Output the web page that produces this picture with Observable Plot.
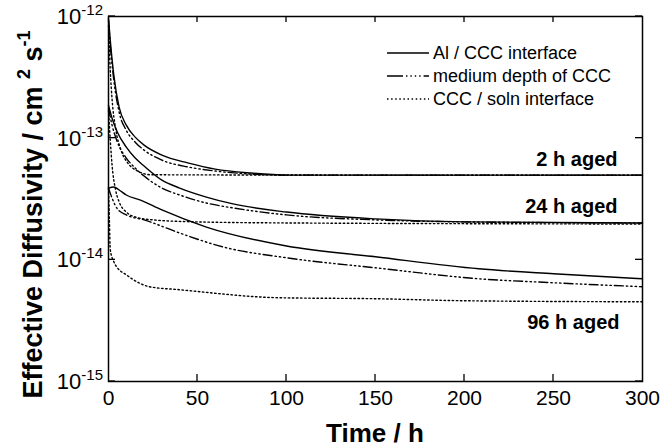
<!DOCTYPE html>
<html><head><meta charset="utf-8">
<script src="https://cdn.jsdelivr.net/npm/d3@7"></script>
<script src="https://cdn.jsdelivr.net/npm/@observablehq/plot@0.6"></script>
<style>
body{margin:0;background:#fff}
svg{font-family:Arial,"Liberation Sans",sans-serif}
</style>
</head><body><div id="chart"></div>
<script>
// ---- data (Time / h, Effective diffusivity / cm^2 s^-1) ----
const ages = ["2 h aged", "24 h aged", "96 h aged"];
const depths = ["Al / CCC interface", "medium depth of CCC", "CCC / soln interface"];

const t2hAl   = [0, 1, 3, 6, 10, 15, 20, 30, 45, 60, 80, 100, 300];
const d2hAl   = [9.63e-13, 6.36e-13, 3.28e-13, 1.79e-13, 1.28e-13, 1.02e-13, 8.76e-14, 7.26e-14, 6.24e-14, 5.57e-14, 5.17e-14, 4.97e-14, 4.97e-14];
const t2hMid  = [0, 1, 3, 6, 10, 15, 20, 30, 45, 60, 80, 100, 300];
const d2hMid  = [9.27e-13, 5.79e-13, 2.99e-13, 1.63e-13, 1.16e-13, 9.27e-14, 7.97e-14, 6.60e-14, 5.79e-14, 5.37e-14, 5.07e-14, 4.97e-14, 4.97e-14];
const t2hSoln = [0, 1, 2, 4, 7, 11, 16, 24, 300];
const d2hSoln = [8.44e-13, 3.60e-13, 2.10e-13, 1.20e-13, 8.00e-14, 6.20e-14, 5.40e-14, 5.00e-14, 4.95e-14];

const t24hAl   = [0, 2, 5, 10, 15, 20, 30, 40, 55, 70, 100, 150, 200, 300];
const d24hAl   = [1.86e-13, 1.46e-13, 1.12e-13, 8.44e-14, 6.86e-14, 5.90e-14, 4.52e-14, 3.89e-14, 3.28e-14, 2.88e-14, 2.47e-14, 2.17e-14, 2.05e-14, 2.01e-14];
const t24hMid  = [0, 2, 5, 10, 15, 20, 30, 40, 55, 70, 100, 150, 200, 300];
const d24hMid  = [1.76e-13, 1.28e-13, 9.27e-14, 6.86e-14, 5.68e-14, 4.88e-14, 3.89e-14, 3.41e-14, 2.93e-14, 2.67e-14, 2.34e-14, 2.13e-14, 2.05e-14, 2.01e-14];
const t24hSoln = [0, 1, 2, 4, 6, 10, 15, 25, 50, 100, 300];
const d24hSoln = [1.70e-13, 9.63e-14, 6.01e-14, 3.75e-14, 2.99e-14, 2.47e-14, 2.25e-14, 2.13e-14, 2.05e-14, 2.01e-14, 1.97e-14];

const t96hAl   = [0, 3, 6, 10, 18, 30, 55, 100, 150, 208, 250, 300];
const d96hAl   = [3.89e-14, 3.97e-14, 3.75e-14, 3.41e-14, 3.10e-14, 2.57e-14, 1.86e-14, 1.30e-14, 1.06e-14, 8.44e-15, 7.68e-15, 6.99e-15];
const t96hMid  = [0, 2, 5, 10, 20, 40, 64, 100, 150, 208, 250, 300];
const d96hMid  = [3.89e-14, 3.22e-14, 2.62e-14, 2.34e-14, 2.13e-14, 1.66e-14, 1.28e-14, 1.04e-14, 8.60e-15, 6.99e-15, 6.48e-15, 6.01e-15];
const t96hSoln = [0, 0.5, 1, 3, 5, 10, 14, 23, 40, 96, 150, 200, 300];
const d96hSoln = [3.89e-14, 2.13e-14, 1.21e-14, 9.63e-15, 8.60e-15, 7.53e-15, 6.86e-15, 6.01e-15, 5.68e-15, 4.88e-15, 4.79e-15, 4.61e-15, 4.52e-15];

const xTicks = [0, 50, 100, 150, 200, 250, 300];
const yTicks = [1e-15, 1e-14, 1e-13, 1e-12];
const yTickExp = ["-15", "-14", "-13", "-12"];

(function () {
// ---- build table ----
const series = [
  [ages[0], depths[0], t2hAl, d2hAl], [ages[0], depths[1], t2hMid, d2hMid], [ages[0], depths[2], t2hSoln, d2hSoln],
  [ages[1], depths[0], t24hAl, d24hAl], [ages[1], depths[1], t24hMid, d24hMid], [ages[1], depths[2], t24hSoln, d24hSoln],
  [ages[2], depths[0], t96hAl, d96hAl], [ages[2], depths[1], t96hMid, d96hMid], [ages[2], depths[2], t96hSoln, d96hSoln]
];
const rows = series.flatMap(([age, depth, ts, ds]) => ts.map((t, i) => ({age, depth, key: age + "|" + depth, t, d: ds[i]})));

const dash = {
  [depths[0]]: null,
  [depths[1]]: "9 3 1.4 3 1.4 3 1.4 3",
  [depths[2]]: "1.5 2.6"
};

const lineMarks = depths.map(dep => Plot.line(rows.filter(r => r.depth === dep), {
  x: "t", y: "d", z: "key", stroke: "black", strokeWidth: 1.4,
  strokeDasharray: dash[dep], curve: "monotone-x"
}));

const lastSolid = ages.map(a => { const r = rows.filter(x => x.age === a && x.depth === depths[0]); return r[r.length - 1]; });
const lastSoln = ages.map(a => { const r = rows.filter(x => x.age === a && x.depth === depths[2]); return r[r.length - 1]; });

const plot = Plot.plot({
  width: 665, height: 448,
  marginLeft: 108, marginRight: 23, marginTop: 16, marginBottom: 67,
  x: {domain: [0, 300]},
  y: {type: "log", domain: [1e-15, 1e-12], axis: null},
  style: {background: "white", color: "black", fontFamily: "Arial, 'Liberation Sans', sans-serif"},
  marks: [
    ...lineMarks,
    Plot.text(lastSolid.slice(0, 2), {x: "t", y: "d", text: "age", textAnchor: "end", dx: -25, dy: -16, fontSize: 20, fontWeight: "bold", fill: "black"}),
    Plot.text(lastSoln.slice(2), {x: "t", y: "d", text: "age", textAnchor: "end", dx: -23, dy: 21, fontSize: 20, fontWeight: "bold", fill: "black"}),
    Plot.axisX(xTicks, {anchor: "bottom", tickSize: 0, tickPadding: 9, fontSize: 21, label: null, tickFormat: d => String(d)}),
    Plot.frame({stroke: "black", strokeWidth: 1.5})
  ]
});

const sx = plot.scale("x"), sy = plot.scale("y");
const svg = d3.select(plot);
const xL = sx.apply(0), xR = sx.apply(300), yT = sy.apply(1e-12), yB = sy.apply(1e-15);
const g = svg.append("g").attr("stroke", "black").attr("stroke-width", 1.3);
// inward ticks
xTicks.slice(1, -1).forEach(v => {
  const x = sx.apply(v);
  g.append("line").attr("x1", x).attr("x2", x).attr("y1", yB).attr("y2", yB - 7);
  g.append("line").attr("x1", x).attr("x2", x).attr("y1", yT).attr("y2", yT + 6);
});
yTicks.forEach(v => {
  const y = sy.apply(v);
  g.append("line").attr("x1", xL).attr("x2", xL + 7).attr("y1", y).attr("y2", y);
  g.append("line").attr("x1", xR).attr("x2", xR - 7).attr("y1", y).attr("y2", y);
});
// y tick labels with superscripts
yTicks.forEach((v, i) => {
  const t = svg.append("text").attr("x", xL - 5).attr("y", sy.apply(v) + 8)
    .attr("text-anchor", "end").attr("font-size", 22).attr("fill", "black");
  t.append("tspan").text("10");
  t.append("tspan").attr("font-size", 15).attr("dy", -9).text(yTickExp[i]);
});
// axis titles
svg.append("text").attr("x", (xL + xR) / 2).attr("y", 442).attr("text-anchor", "middle")
  .attr("font-size", 26).attr("font-weight", "bold").attr("fill", "black").text("Time / h");
const yt = svg.append("text").attr("transform", `translate(42,${(yT + yB) / 2 + 16}) rotate(-90)`)
  .attr("text-anchor", "middle").attr("font-size", 27).attr("font-weight", "bold").attr("fill", "black");
yt.append("tspan").text("Effective Diffusivity / cm ");
yt.append("tspan").attr("font-size", 18).attr("dy", -12).text("2");
yt.append("tspan").attr("dy", 12).text(" s");
yt.append("tspan").attr("font-size", 18).attr("dy", -12).text("-1");
// legend
const lg = svg.append("g");
depths.forEach((dep, i) => {
  const y = 53 + i * 23;
  lg.append("line").attr("x1", 387).attr("x2", 429).attr("y1", y).attr("y2", y)
    .attr("stroke", "black").attr("stroke-width", 1.4)
    .attr("stroke-dasharray", i === 1 ? "16 3 1.4 3 1.4 3 1.4 3 1.4 3" : dash[dep]);
  lg.append("text").attr("x", 433).attr("y", y + 6).attr("text-anchor", "start")
    .attr("font-size", 18).attr("fill", "black").text(dep);
});

document.getElementById("chart").appendChild(plot);
})();
</script>
</body></html>
